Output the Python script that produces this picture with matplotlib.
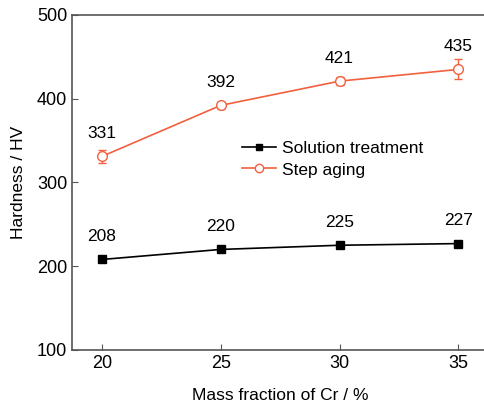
import matplotlib.pyplot as plt
from matplotlib.lines import Line2D

plt.rcParams['font.family'] = ['Liberation Sans', 'DejaVu Sans']

cr = [20, 25, 30, 35]
solution = [208, 220, 225, 227]
aging = [331, 392, 421, 435]
aging_err = [8, 4, 5, 12]

orange = '#f2603f'

fig = plt.figure(figsize=(4.85, 4.05), dpi=100)
ax = fig.add_axes([0.1485, 0.136, 0.858, 0.827])

ax.plot(cr, solution, '-s', color='black', lw=1.2, ms=6)
ax.errorbar(cr, aging, yerr=aging_err, fmt='-o', color=orange, lw=1.2, ms=7,
            mfc='white', mec=orange, capsize=3, elinewidth=1)

for x, y in zip(cr, solution):
    ax.annotate(str(y), (x, y), xytext=(0, 11), textcoords='offset points',
                ha='center', va='bottom', fontsize=12.5)
for x, y in zip(cr, aging):
    ax.annotate(str(y), (x, y), xytext=(0, 11), textcoords='offset points',
                ha='center', va='bottom', fontsize=12.5)

ax.set_xlim(18.75, 36.25)
ax.set_ylim(100, 500)
ax.set_xticks(cr)
ax.set_yticks([100, 200, 300, 400, 500])
ax.tick_params(direction='in', labelsize=13, length=4, color='#555555')
for s in ax.spines.values():
    s.set_color('#555555')
    s.set_linewidth(1.2)

ax.set_xlabel('Mass fraction of Cr / %', fontsize=12.5, labelpad=12)
ax.set_ylabel('Hardness / HV', fontsize=12.5, labelpad=8)

handles = [
    Line2D([], [], color='black', marker='s', lw=1.2, ms=5),
    Line2D([], [], color=orange, marker='o', lw=1.2, ms=6, mfc='white', mec=orange),
]
ax.legend(handles, ['Solution treatment', 'Step aging'], loc='upper left',
          bbox_to_anchor=(0.37, 0.67), frameon=False, fontsize=12.5,
          handlelength=2.0, handletextpad=0.3, labelspacing=0.35)

plt.savefig('out.png', dpi=100)
